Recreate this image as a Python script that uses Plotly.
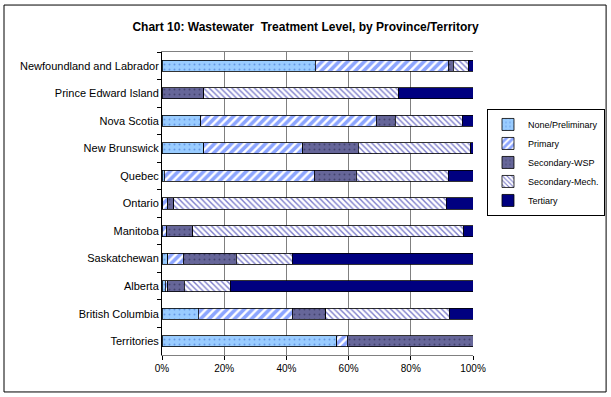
import plotly.graph_objects as go

provinces = [
    "Newfoundland and Labrador", "Prince Edward Island", "Nova Scotia",
    "New Brunswick", "Quebec", "Ontario", "Manitoba", "Saskatchewan",
    "Alberta", "British Columbia", "Territories",
]

# share of population served (%) by treatment level
none_prelim = [49.3, 0.0, 12.5, 13.5, 0.8, 0.3, 0.0, 1.9, 1.1, 11.7, 56.2]
primary = [42.7, 0.0, 56.4, 31.8, 48.1, 1.6, 1.5, 5.0, 0.7, 30.2, 3.4]
secondary_wsp = [1.6, 13.4, 6.1, 17.8, 13.6, 1.8, 8.4, 16.9, 5.4, 10.8, 40.4]
secondary_mech = [5.1, 62.8, 21.5, 36.1, 29.5, 87.7, 87.2, 18.1, 14.7, 39.6, 0.0]
tertiary = [1.3, 23.8, 3.5, 0.8, 8.0, 8.6, 2.9, 58.1, 78.1, 7.7, 0.0]

FONT = "Arial, Liberation Sans, sans-serif"

series = [
    ("None/Preliminary", none_prelim, dict(shape=".", bgcolor="#99CCFF", fgcolor="#3366CC", size=5, solidity=0.12)),
    ("Primary", primary, dict(shape="/", bgcolor="#FFFFFF", fgcolor="#1A4CFF", size=6, solidity=0.6)),
    ("Secondary-WSP", secondary_wsp, dict(shape=".", bgcolor="#666699", fgcolor="#222244", size=5, solidity=0.12)),
    ("Secondary-Mech.", secondary_mech, dict(shape="\\", bgcolor="#FFFFFF", fgcolor="#000099", size=4, solidity=0.35)),
    ("Tertiary", tertiary, dict(shape="", bgcolor="#000080", fgcolor="#000080")),
]

fig = go.Figure()
for name, vals, patt in series:
    fig.add_trace(go.Bar(
        y=provinces,
        x=vals,
        name=name,
        orientation="h",
        marker=dict(color=patt["bgcolor"], pattern=patt,
                    line=dict(color="#000000", width=0.8)),
    ))

fig.update_layout(
    barmode="stack",
    bargap=0.6,
    width=611,
    height=397,
    margin=dict(l=162, r=138, t=52, b=42, autoexpand=False),
    paper_bgcolor="white",
    plot_bgcolor="white",
    font=dict(family=FONT, size=10, color="black"),
    title=dict(
        text="<b>Chart 10: Wastewater  Treatment Level, by Province/Territory</b>",
        x=0.5, xanchor="center", y=0.932, yanchor="middle",
        font=dict(size=12, family=FONT),
    ),
    legend=dict(
        x=1.045, y=0.812, xanchor="left", yanchor="top",
        traceorder="normal",
        bordercolor="black", borderwidth=1,
        font=dict(size=9, family=FONT),
        itemwidth=30,
        tracegroupgap=0,
    ),
    showlegend=True,
)

fig.update_xaxes(
    range=[0, 100],
    tickvals=[0, 20, 40, 60, 80, 100],
    ticktext=["0%", "20%", "40%", "60%", "80%", "100%"],
    showgrid=True, gridcolor="#808080", gridwidth=1,
    showline=True, linecolor="#808080", mirror=True,
    ticks="outside", ticklen=4, tickcolor="black",
    zeroline=False, automargin=False,
    tickfont=dict(size=10),
)
fig.update_yaxes(
    categoryorder="array", categoryarray=provinces, autorange="reversed",
    showline=True, linecolor="black", mirror=False,
    ticks="outside", ticklen=4, tickson="boundaries", tickcolor="black",
    automargin=False,
    tickfont=dict(size=11),
)

# outer chart frame
fig.add_shape(type="rect", xref="paper", yref="paper",
              x0=-0.508, x1=1.428, y0=-0.122, y1=1.155,
              line=dict(color="black", width=1))

fig.write_html("out.html", config={"displayModeBar": False},
               post_script="document.body.style.margin='0';")
